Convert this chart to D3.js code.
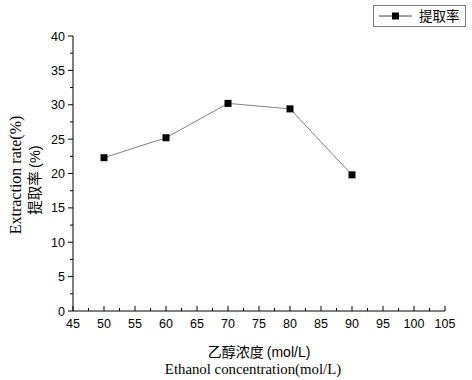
<!DOCTYPE html>
<html><head><meta charset="utf-8">
<script src="https://cdn.jsdelivr.net/npm/d3@7"></script>
<style>body{margin:0;background:#fff}svg{display:block}</style>
</head><body>
<svg id="c" width="472" height="380"></svg>
<script>
const concentrations = [50, 60, 70, 80, 90];
const extractionRates = [22.3, 25.2, 30.2, 29.4, 19.8];
const xTicks = [45, 50, 55, 60, 65, 70, 75, 80, 85, 90, 95, 100, 105];
const yTicks = [0, 5, 10, 15, 20, 25, 30, 35, 40];
const seriesName = "提取率";

const svg = d3.select("#c");
const x = d3.scaleLinear().domain([45, 105]).range([73, 445]);
const y = d3.scaleLinear().domain([0, 40]).range([311, 36]);
const numFont = "'Liberation Sans', Arial, sans-serif";
const serif = "'Liberation Serif', 'Times New Roman', serif";
const cjk = "'Noto Sans CJK SC', sans-serif";

const xMinor = d3.range(47.5, 105, 5);
const yMinor = d3.range(2.5, 40, 5);

const xAxis = svg.append("g").attr("transform", "translate(0,311)");
xAxis.append("line").attr("x1", 73).attr("x2", 445).attr("stroke", "#000");
xAxis.selectAll(".xt").data(xTicks).join("line")
  .attr("x1", d => x(d)).attr("x2", d => x(d)).attr("y1", 0).attr("y2", -5).attr("stroke", "#000");
xAxis.selectAll(".xm").data(xMinor).join("line")
  .attr("x1", d => x(d)).attr("x2", d => x(d)).attr("y1", 0).attr("y2", -3).attr("stroke", "#000");
xAxis.selectAll("text").data(xTicks).join("text")
  .attr("x", d => x(d)).attr("y", 17).attr("text-anchor", "middle")
  .attr("font-family", numFont).attr("font-size", 12.5).text(d => d);

const yAxis = svg.append("g").attr("transform", "translate(73,0)");
yAxis.append("line").attr("y1", 36).attr("y2", 311).attr("stroke", "#000");
yAxis.selectAll(".yt").data(yTicks).join("line")
  .attr("x1", 0).attr("x2", -5).attr("y1", d => y(d)).attr("y2", d => y(d)).attr("stroke", "#000");
yAxis.selectAll(".ym").data(yMinor).join("line")
  .attr("x1", 0).attr("x2", -3).attr("y1", d => y(d)).attr("y2", d => y(d)).attr("stroke", "#000");
yAxis.selectAll("text").data(yTicks).join("text")
  .attr("x", -8).attr("y", d => y(d) + 4.5).attr("text-anchor", "end")
  .attr("font-family", numFont).attr("font-size", 12.5).text(d => d);

const line = d3.line().x((d, i) => x(concentrations[i])).y(d => y(d));
svg.append("path").datum(extractionRates).attr("d", line)
  .attr("fill", "none").attr("stroke", "#808080").attr("stroke-width", 1);
svg.selectAll(".pt").data(extractionRates).join("rect")
  .attr("x", (d, i) => x(concentrations[i]) - 3.5).attr("y", d => y(d) - 3.5)
  .attr("width", 7).attr("height", 7).attr("fill", "#000");

const xt = svg.append("text").attr("x", 259).attr("y", 357).attr("text-anchor", "middle").attr("font-size", 14);
xt.append("tspan").attr("font-family", cjk).text("乙醇浓度 ");
xt.append("tspan").attr("font-family", numFont).text("(mol/L)");
svg.append("text").attr("x", 253).attr("y", 374).attr("text-anchor", "middle")
  .attr("font-family", serif).attr("font-size", 14.8).text("Ethanol concentration(mol/L)");

svg.append("text").attr("transform", "translate(21,175) rotate(-90)").attr("text-anchor", "middle")
  .attr("font-family", serif).attr("font-size", 16).text("Extraction rate(%)");
const yt2 = svg.append("text").attr("transform", "translate(40,180) rotate(-90)").attr("text-anchor", "middle").attr("font-size", 14.5);
yt2.append("tspan").attr("font-family", cjk).text("提取率 ");
yt2.append("tspan").attr("font-family", numFont).text("(%)");

const lg = svg.append("g");
lg.append("rect").attr("x", 373.5).attr("y", 5.5).attr("width", 92).attr("height", 21)
  .attr("fill", "#fff").attr("stroke", "#808080");
lg.append("line").attr("x1", 379).attr("x2", 412).attr("y1", 16).attr("y2", 16).attr("stroke", "#404040");
lg.append("rect").attr("x", 392).attr("y", 12.5).attr("width", 7).attr("height", 7).attr("fill", "#000");
lg.append("text").attr("x", 419).attr("y", 21).attr("font-family", cjk).attr("font-size", 13.5).text(seriesName);
</script>
</body></html>
